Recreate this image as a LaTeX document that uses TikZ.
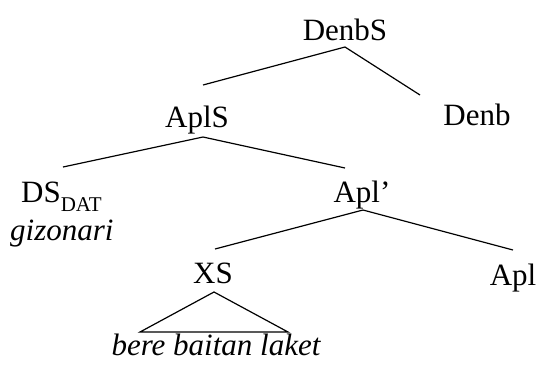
\documentclass[tikz,border=0pt]{standalone}
\usepackage{fontspec}
\setmainfont{Liberation Serif}
\usetikzlibrary{calc}
\begin{document}
\begin{tikzpicture}[x=1pt,y=-1pt,
  lbl/.style={inner sep=0pt, anchor=base, font=\fontsize{31}{31}\selectfont},
  br/.style={line width=1.2pt, line join=miter}]
\useasboundingbox (0,0) rectangle (552,368);
\node[lbl] (denbs) at (345,40) {DenbS};
\node[lbl] (apls) at (197,127) {AplS};
\node[lbl] (denb) at (477,125) {Denb};
\node[lbl, anchor=base west] (ds) at (21,202) {DS\raisebox{-9pt}{\fontsize{21}{21}\selectfont DAT}};
\node[lbl, anchor=base west] (giz) at (10,240) {\itshape gizonari};
\node[lbl] (aplp) at (362,202) {Apl’};
\node[lbl] (xs) at (213,283) {XS};
\node[lbl] (apl) at (513,285) {Apl};
\node[lbl] (bere) at (216,355) {\itshape bere baitan laket};
% branches
\draw[br] ($(apls.base)+(6,-42)$) -- ($(denbs.base)+(0,7)$) -- ($(denb.base)+(-57,-30)$);
\draw[br] ($(ds.base west)+(42,-35)$) -- ($(apls.base)+(6,10)$) -- ($(aplp.base)+(-17,-34)$);
\draw[br] ($(xs.base)+(2,-34)$) -- ($(aplp.base)+(1,8)$) -- ($(apl.base)+(0,-35)$);
\draw[br] ($(xs.base)+(1,9)$) -- ($(bere.base)+(-76,-23)$) -- ($(bere.base)+(72,-23)$) -- cycle;
\end{tikzpicture}
\end{document}
